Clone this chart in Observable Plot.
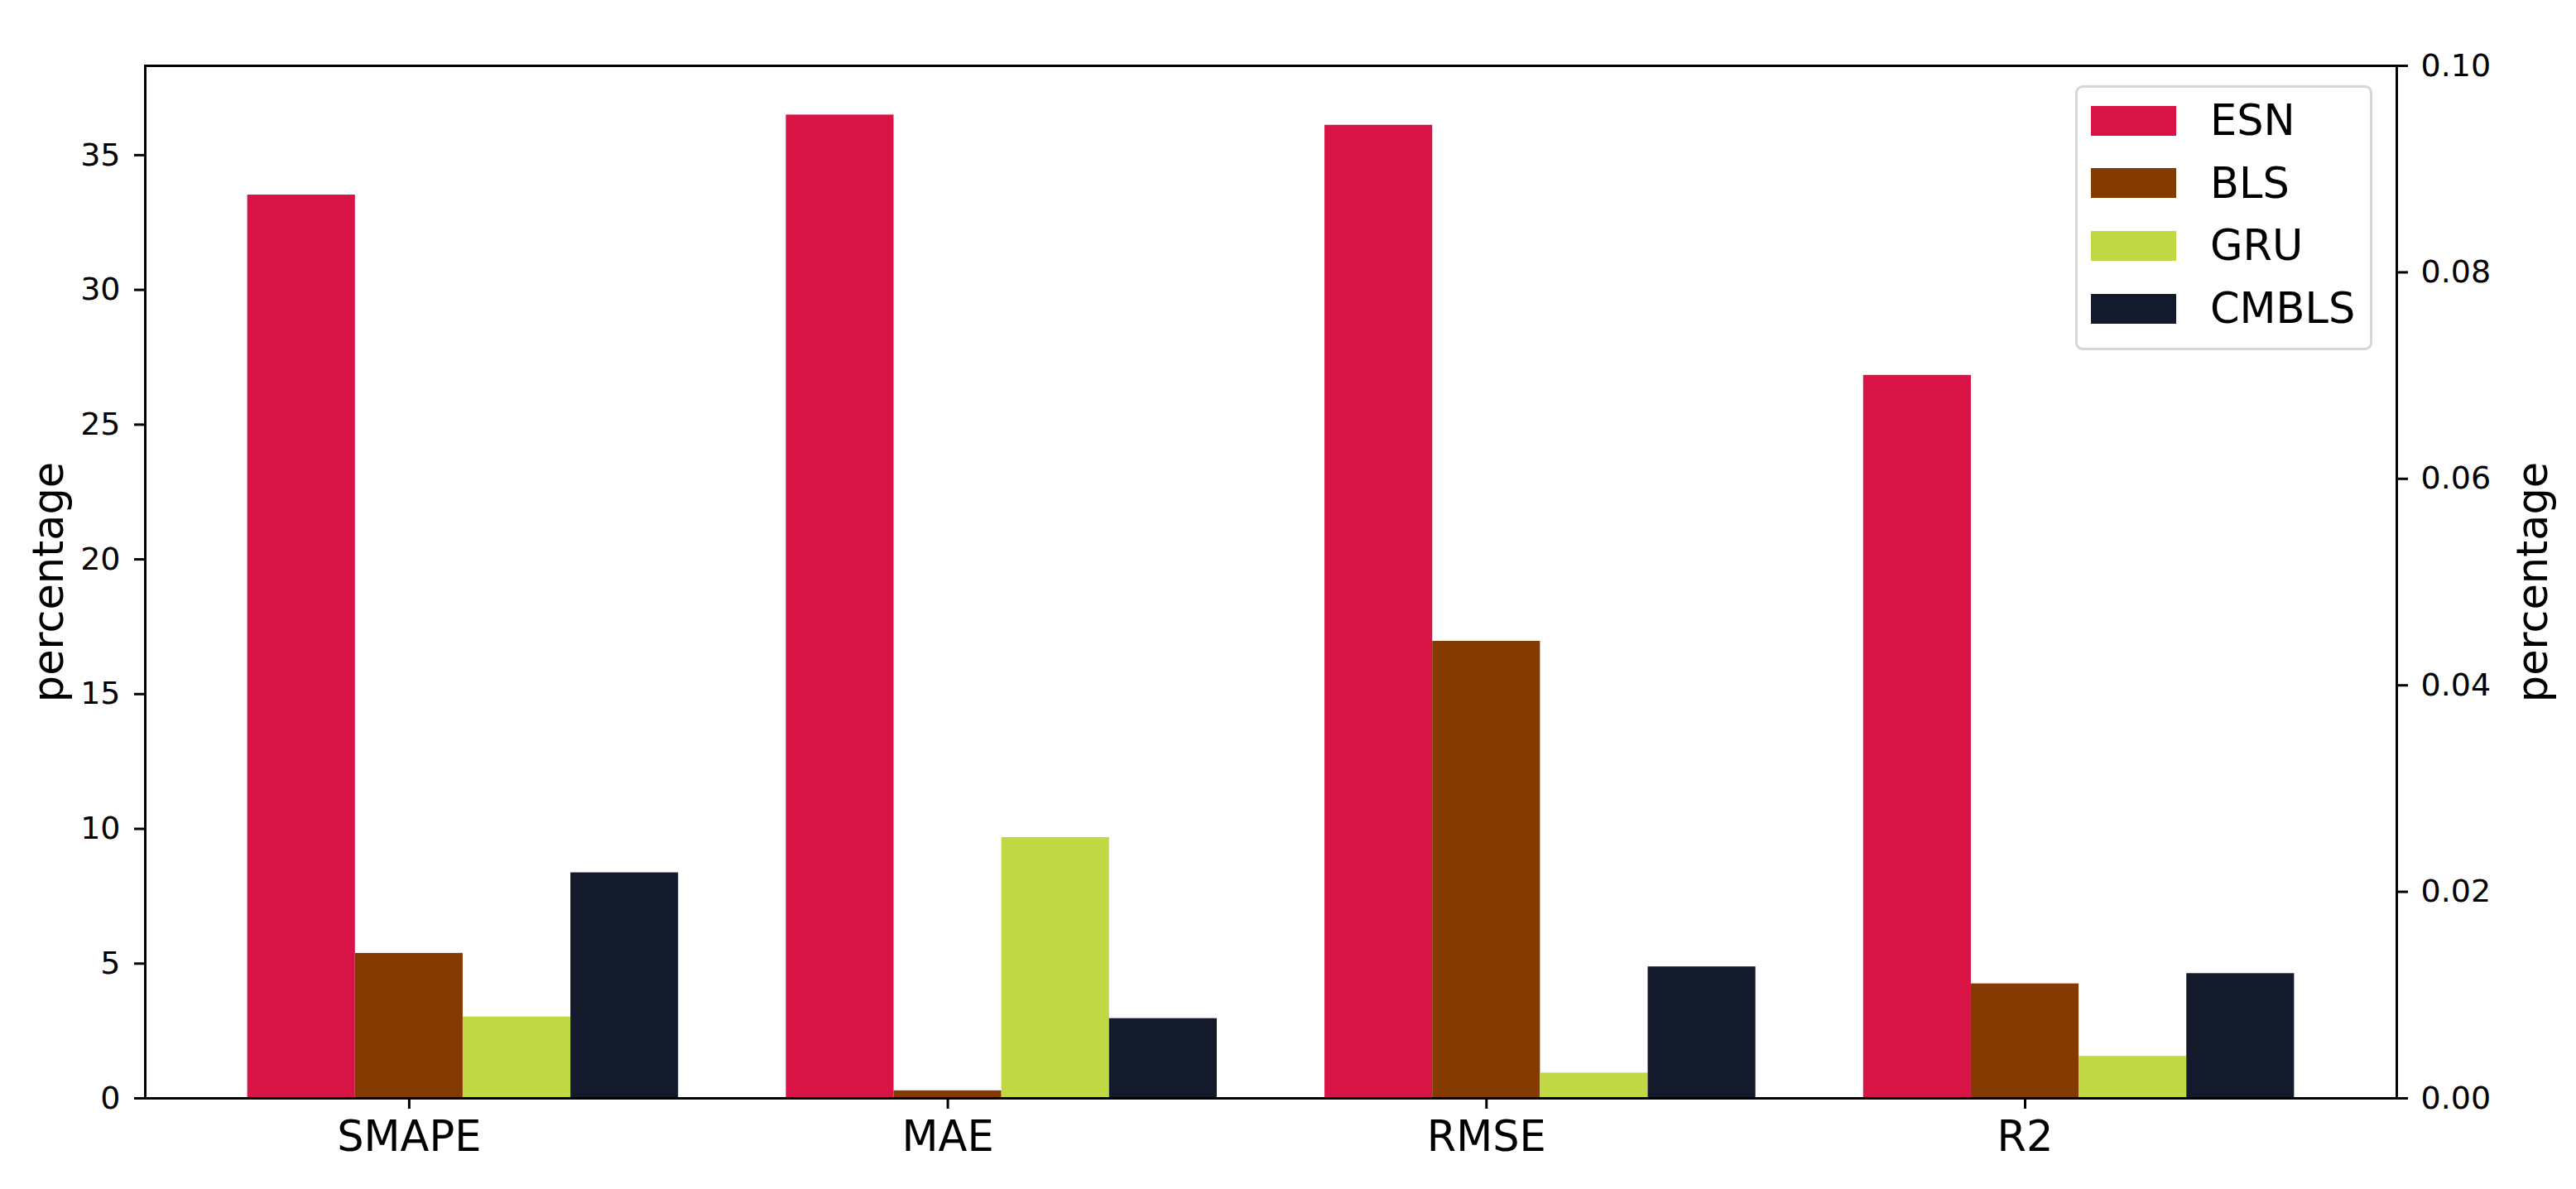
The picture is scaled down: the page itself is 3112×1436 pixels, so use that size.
<!DOCTYPE html>
<html>
<head>
<meta charset="utf-8">
<script src="https://cdn.jsdelivr.net/npm/d3@7"></script>
<script src="https://cdn.jsdelivr.net/npm/@observablehq/plot@0.6"></script>
<style>
  html, body { margin: 0; padding: 0; background: #fff; }
  #wrap { position: relative; width: 3112px; height: 1436px; font-family: "DejaVu Sans", sans-serif; }
  #legendbox {
    position: absolute; left: 2507px; top: 103px; width: 359px; height: 320px;
    box-sizing: border-box; border: 3px solid #d6d6d6; border-radius: 9px;
    background: rgba(255,255,255,0.8); padding: 2px 0 0 16px;
  }
  .lg-swatches { margin: 0 !important; font-family: "DejaVu Sans", sans-serif !important; font-size: 51px !important; color: #000; }
  .lg-swatch { height: 75.6px; padding-bottom: 0 !important; display: flex; align-items: center; }
  .lg-swatch > svg { margin-right: 41px !important; }
  .lg-swatch-label { overflow: visible !important; }
</style>
</head>
<body>
<div id="wrap"></div>
<script>
// ---- data ----
const categories = ["SMAPE", "MAE", "RMSE", "R2"];
const models = ["ESN", "BLS", "GRU", "CMBLS"];
const ESN = [33.52, 36.49, 36.11, 26.83];
const BLS = [5.38, 0.28, 16.96, 4.25];
const GRU = [3.02, 9.68, 0.94, 1.56];
const CMBLS = [8.37, 2.96, 4.88, 4.63];
const colors = ["#d81446", "#853a02", "#bfd844", "#131a2b"];
const leftTicks = [0, 5, 10, 15, 20, 25, 30, 35];
const rightTicks = [0, 0.02, 0.04, 0.06, 0.08, 0.10];
const rightMax = 0.10;
const yLabel = "percentage";

// ---- build table (matplotlib-style positions: tick at index, bar width 0.2) ----
const seriesList = [ESN, BLS, GRU, CMBLS];
const barWidth = 0.2;
const rows = [];
seriesList.forEach((vals, mi) => {
  vals.forEach((v, ci) => {
    const center = ci + (mi - 1) * barWidth;
    rows.push({category: categories[ci], model: models[mi], value: v,
               x1: center - barWidth / 2, x2: center + barWidth / 2});
  });
});
const xMin = d3.min(rows, d => d.x1), xMax = d3.max(rows, d => d.x2);
const xPad = (xMax - xMin) * 0.05;
const yMax = d3.max(rows, d => d.value) * 1.05;
const toLeft = r => r * yMax / rightMax;

const font = "DejaVu Sans";
const plot = Plot.plot({
  width: 3112,
  height: 1436,
  marginLeft: 175,
  marginRight: 217,
  marginTop: 79,
  marginBottom: 110,
  style: {fontFamily: font, color: "#000", background: "#fff"},
  x: {type: "linear", domain: [xMin - xPad, xMax + xPad]},
  y: {domain: [0, yMax]},
  color: {domain: models, range: colors},
  marks: [
    Plot.rectY(rows, {x1: "x1", x2: "x2", y: "value", fill: "model"}),
    Plot.axisY({anchor: "left", ticks: leftTicks, tickFormat: d => String(d), tickSize: 13, tickPadding: 17,
                fontSize: 38, strokeWidth: 3, label: null}),
    Plot.axisY({anchor: "right", ticks: rightTicks.map(toLeft),
                tickFormat: d => (d * rightMax / yMax).toFixed(2), tickSize: 13, tickPadding: 16,
                fontSize: 38, strokeWidth: 3, label: null}),
    Plot.axisX({ticks: categories.map((c, i) => i), tickFormat: i => categories[i], tickSize: 13,
                tickPadding: 14, fontSize: 51, strokeWidth: 3, label: null}),
    Plot.text([yLabel], {frameAnchor: "left", rotate: -90, dx: -116, fontSize: 51,
                         textAnchor: "middle", lineAnchor: "middle", fill: "#000"}),
    Plot.text([yLabel], {frameAnchor: "right", rotate: -90, dx: 165, fontSize: 51,
                         textAnchor: "middle", lineAnchor: "middle", fill: "#000"}),
    Plot.frame({stroke: "#000", strokeWidth: 3})
  ]
});

const wrap = document.getElementById("wrap");
wrap.appendChild(plot);

const box = document.createElement("div");
box.id = "legendbox";
box.appendChild(plot.legend("color", {legend: "swatches", columns: 1, swatchWidth: 103, swatchHeight: 36, className: "lg"}));
wrap.appendChild(box);
</script>
</body>
</html>
